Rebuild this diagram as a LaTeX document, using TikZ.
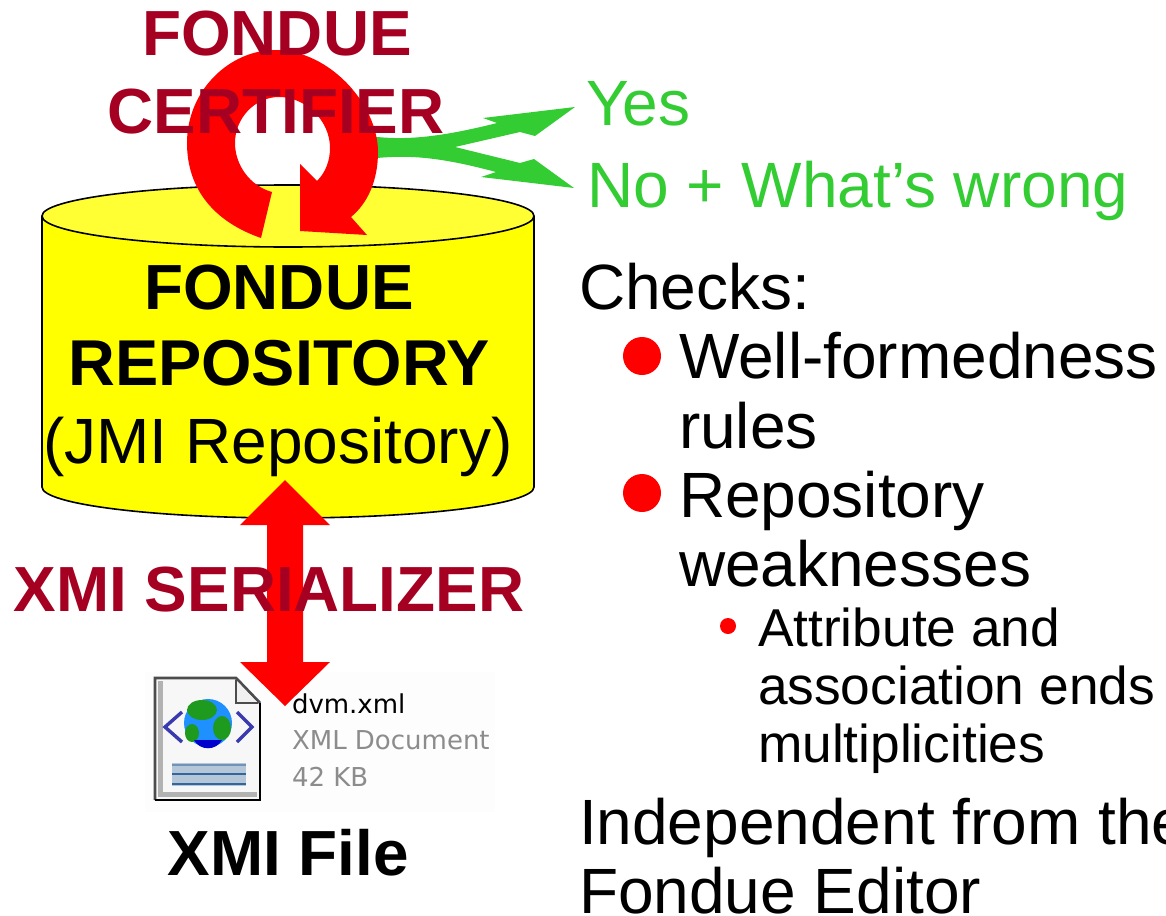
\documentclass[tikz,border=0pt]{standalone}
\usepackage{fontspec}
\setmainfont{Liberation Sans}
\newfontfamily\dvfont{DejaVu Sans}
\definecolor{wine}{HTML}{A50021}
\definecolor{grass}{HTML}{33CC33}
\definecolor{yelbody}{HTML}{FFFF00}
\definecolor{yeltop}{HTML}{FFFF33}
\definecolor{iconblue}{HTML}{33669A}
\definecolor{barlight}{HTML}{B4C6D8}
\definecolor{arrowblue}{HTML}{3A3AB0}
\definecolor{globeblue}{HTML}{1E90FF}
\definecolor{globegreen}{HTML}{1E9A1E}
\newcommand{\bigfs}{\fontsize{64}{70}\selectfont}
\newcommand{\boldfs}{\fontsize{63.8}{70}\selectfont}
\newcommand{\subfs}{\fontsize{53.3}{58}\selectfont}
\tikzset{
  base/.style={inner sep=0pt,outer sep=0pt,anchor=base west},
  bodytext/.style={base,font=\bigfs},
  subtext/.style={base,font=\subfs},
  boldwine/.style={inner sep=0pt,anchor=base,font=\boldfs\bfseries,text=wine},
  boldblack/.style={inner sep=0pt,anchor=base,font=\boldfs\bfseries},
  greentext/.style={base,font=\bigfs,text=grass},
  greyfile/.style={base,font=\dvfont\fontsize{26}{30}\selectfont,text=gray!90}
}
\begin{document}
\begin{tikzpicture}[x=1pt,y=-1pt]
\useasboundingbox (0,0) rectangle (1166,915);
\clip (0,0) rectangle (1166,915);
% cylinder
\fill[yelbody] (42,216) -- (42,487) arc[start angle=180,end angle=0,x radius=246,y radius=31] -- (534,216) -- cycle;
\draw[line width=1.6pt] (42,216) -- (42,487) arc[start angle=180,end angle=0,x radius=246,y radius=31] -- (534,216);
\draw[fill=yeltop,line width=1.6pt] (288,216) ellipse[x radius=246,y radius=31];
% green fork
\fill[grass] (370,137) -- (377,137) .. controls (400,139) and (430,140) .. (497,123) -- (483,118) -- (575,107) -- (535,136) -- (520,132) -- (455,147) -- (520,163) -- (534,159) -- (574,188) -- (481,177) -- (496,172) .. controls (440,157) and (410,155) .. (377,158) -- (370,158) -- cycle;
% red loop
\fill[red] (261,238) .. controls (215,222) and (187,190) .. (187,143)
  .. controls (187,90) and (230,50) .. (275,50)
  .. controls (330,50) and (378,105) .. (378,152)
  .. controls (378,180) and (368,203) .. (351,217)
  -- (367,235) -- (300,231) -- (300,164) -- (317,181)
  .. controls (326,172) and (330,160) .. (330,148)
  .. controls (330,120) and (305,97) .. (279,97)
  .. controls (255,97) and (235,118) .. (235,143)
  .. controls (235,165) and (250,186) .. (272,192) -- cycle;
% file icon
\fill[gray!1.5] (145,672) rectangle (495,812);
\fill[gray!6] (155,678) -- (236,678) -- (260,703) -- (260,800) -- (155,800) -- cycle;
\fill[gray!60] (158,681) rectangle (163,797);
\fill[gray!60] (158,792) rectangle (257,797);
\draw[black!70,line width=2.8pt] (260,703) -- (236,678) -- (155,678) -- (155,800);
\draw[black,line width=2.8pt] (155,800) -- (260,800) -- (260,703);
\fill[gray!12] (236,680) -- (236,703) -- (258,703) -- cycle;
\draw[black!70,line width=1.5pt] (236,680) -- (236,703) -- (258,703);
\fill[globeblue] (208,723) circle[radius=24];
\fill[globegreen] (202,710) ellipse[x radius=15,y radius=10];
\fill[globegreen] (222,728) ellipse[x radius=9,y radius=12];
\fill[globegreen] (192,733) ellipse[x radius=7,y radius=9];
\fill[blue!80!black] (194,740) .. controls (200,751) and (216,751) .. (222,740) -- cycle;
\draw[arrowblue,line width=3.4pt] (182,712) -- (165,727) -- (182,742);
\draw[arrowblue,line width=3.4pt] (237,712) -- (252,727) -- (237,742);
\fill[barlight] (172,763) rectangle (246,786);
\draw[iconblue,line width=2.6pt] (172,774) -- (246,774);
\draw[iconblue,line width=2.6pt] (172,784) -- (246,784);
\draw[iconblue!70,line width=1.6pt] (172,765) -- (246,765);
\node[base,font=\dvfont\fontsize{26}{30}\selectfont] (fname) at (292,713) {dvm.xml};
\node[greyfile] (ftype) at (292,749) {XML Document};
\node[greyfile] (fsize) at (292,786) {42 KB};
% double arrow
\fill[red] (285,480) -- (330,525) -- (303,525) -- (303,662) -- (330,662) -- (285,706) -- (240,662) -- (267,662) -- (267,525) -- (240,525) -- cycle;
% labels
\node[boldwine] (fondue) at (277,56) {FONDUE};
\node[boldwine] (certifier) at (276,133) {CERTIFIER};
\node[boldblack] (repo1) at (279,309) {FONDUE};
\node[boldblack,font=\fontsize{64.8}{70}\selectfont\bfseries] (repo2) at (279,385) {REPOSITORY};
\node[inner sep=0pt,anchor=base,font=\bigfs] (repo3) at (278,463) {(JMI Repository)};
\node[boldwine] (serializer) at (269,611) {XMI SERIALIZER};
\node[boldblack] (xmifile) at (288,875) {XMI File};
\node[greentext] (yes) at (586,125) {Yes};
\node[greentext] (no) at (587,207) {No + What’s wrong};
\node[bodytext] (checks) at (579,309) {Checks:};
\fill[red] (642,356) circle[radius=19];
\node[bodytext] (wf) at (679,378) {Well-formedness};
\node[bodytext] (rules) at (679,448) {rules};
\fill[red] (642,493) circle[radius=19];
\node[bodytext] (rw) at (679,517) {Repository};
\node[bodytext] (weak) at (679,586) {weaknesses};
\fill[red] (728,626) circle[radius=8];
\node[subtext] (attr) at (758,646) {Attribute and};
\node[subtext] (assoc) at (758,704) {association ends};
\node[subtext] (mult) at (758,762) {multiplicities};
\node[bodytext] (indep) at (579,844) {Independent from the};
\node[bodytext] (editor) at (579,913) {Fondue Editor};
\end{tikzpicture}
\end{document}
